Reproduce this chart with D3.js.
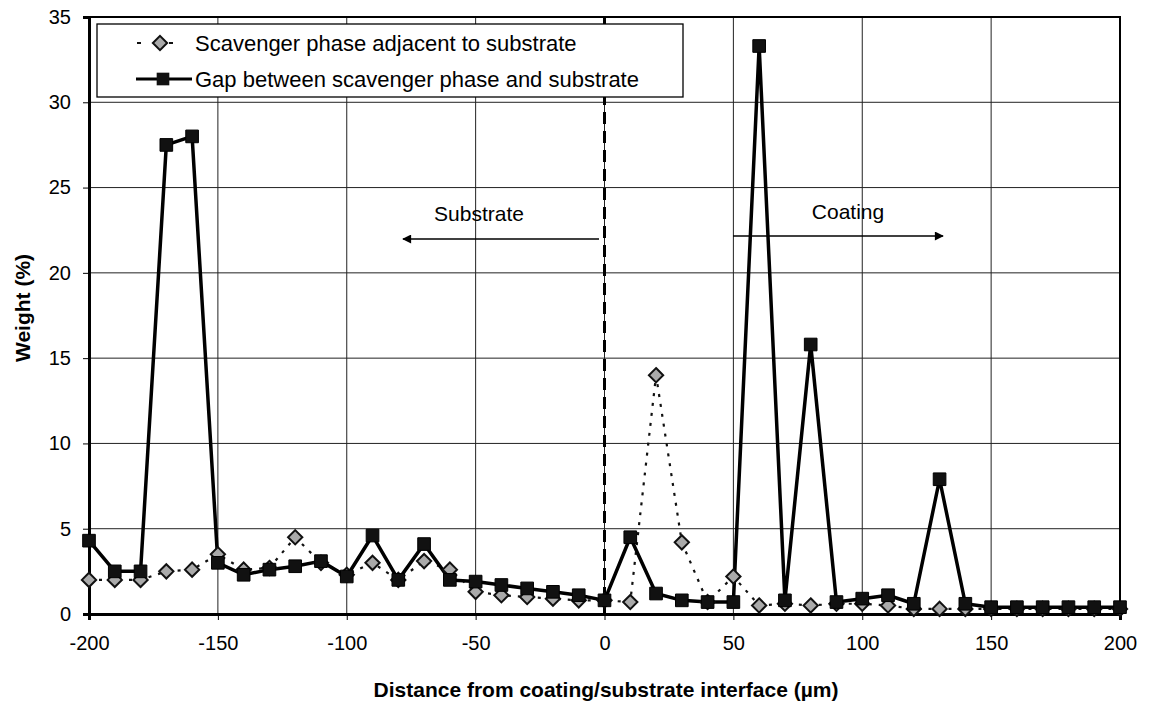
<!DOCTYPE html>
<html>
<head>
<meta charset="utf-8">
<script src="https://cdn.jsdelivr.net/npm/d3@7"></script>
<style>
  body { margin: 0; background: #fff; }
  svg { font-family: "Liberation Sans", Arial, sans-serif; }
</style>
</head>
<body>
<svg id="chart" width="1150" height="702"></svg>
<script>
var distances = [-200,-190,-180,-170,-160,-150,-140,-130,-120,-110,-100,-90,-80,-70,-60,-50,-40,-30,-20,-10,
                 0,10,20,30,40,50,60,70,80,90,100,110,120,130,140,150,160,170,180,190,200];

var scavenger = [2.0,2.0,2.0,2.5,2.6,3.5,2.6,2.7,4.5,3.0,2.3,3.0,2.0,3.1,2.6,1.3,1.1,1.0,0.9,0.8,
                 0.8,0.7,14.0,4.2,0.7,2.2,0.5,0.6,0.5,0.6,0.6,0.5,0.3,0.3,0.3,0.3,0.3,0.3,0.3,0.3,0.3];

var gap = [4.3,2.5,2.5,27.5,28.0,3.0,2.3,2.6,2.8,3.1,2.2,4.6,2.0,4.1,2.0,1.9,1.7,1.5,1.3,1.1,
           0.8,4.5,1.2,0.8,0.7,0.7,33.3,0.8,15.8,0.7,0.9,1.1,0.6,7.9,0.6,0.4,0.4,0.4,0.4,0.4,0.4];

var xTicks = [-200,-150,-100,-50,0,50,100,150,200];
var yTicks = [0,5,10,15,20,25,30,35];
var seriesNames = ['Scavenger phase adjacent to substrate', 'Gap between scavenger phase and substrate'];

var svg = d3.select('#chart');

var x = d3.scaleLinear().domain([-200, 200]).range([89, 1120]);
var y = d3.scaleLinear().domain([0, 35]).range([614, 17]);

// grid
svg.append('g').selectAll('line.h')
  .data(yTicks).enter().append('line')
    .attr('x1', x(-200)).attr('x2', x(200))
    .attr('y1', function(d) { return y(d) }).attr('y2', function(d) { return y(d) })
    .attr('stroke', '#222').attr('stroke-width', 1);

svg.append('g').selectAll('line.v')
  .data(xTicks).enter().append('line')
    .attr('y1', y(0)).attr('y2', y(35))
    .attr('x1', function(d) { return x(d) }).attr('x2', function(d) { return x(d) })
    .attr('stroke', '#222').attr('stroke-width', 1);

// frame
svg.append('rect')
  .attr('x', x(-200)).attr('y', y(35))
  .attr('width', x(200) - x(-200)).attr('height', y(0) - y(35))
  .attr('fill', 'none').attr('stroke', '#000').attr('stroke-width', 2);

// axes (plain hyphen for negatives, like the original)
var fmt = function(d) { return String(d) };
var xAxis = svg.append('g')
  .attr('transform', 'translate(0,' + y(0) + ')')
  .call(d3.axisBottom(x).tickValues(xTicks).tickFormat(fmt).tickSize(6).tickPadding(14));
var yAxis = svg.append('g')
  .attr('transform', 'translate(' + x(-200) + ',0)')
  .call(d3.axisLeft(y).tickValues(yTicks).tickFormat(fmt).tickSize(6).tickPadding(12));

[xAxis, yAxis].forEach(function(a) {
  a.select('.domain').attr('stroke', '#000').attr('stroke-width', 3);
  a.selectAll('line').attr('stroke', '#000');
  a.selectAll('text').attr('font-size', 20).attr('fill', '#000')
    .attr('font-family', '"Liberation Sans", Arial, sans-serif');
});
xAxis.selectAll('text').attr('dy', '0.8em');

// interface line
svg.append('line')
  .attr('x1', x(0)).attr('x2', x(0))
  .attr('y1', y(35)).attr('y2', y(0))
  .attr('stroke', '#000').attr('stroke-width', 3)
  .attr('stroke-dasharray', '12,7');

// series lines
var line = function(vals) {
  return d3.line()
    .x(function(d, i) { return x(distances[i]) })
    .y(function(d) { return y(d) })(vals);
};

svg.append('path')
  .attr('d', line(scavenger))
  .attr('fill', 'none').attr('stroke', '#111').attr('stroke-width', 2.2)
  .attr('stroke-dasharray', '3,7');

svg.append('path')
  .attr('d', line(gap))
  .attr('fill', 'none').attr('stroke', '#000').attr('stroke-width', 3.5)
  .attr('stroke-linejoin', 'round');

var diamond = d3.symbol().type(d3.symbolDiamond2).size(130);
var square = d3.symbol().type(d3.symbolSquare).size(160);

svg.append('g').selectAll('path')
  .data(scavenger).enter().append('path')
    .attr('d', diamond)
    .attr('transform', function(d, i) { return 'translate(' + x(distances[i]) + ',' + y(d) + ')' })
    .attr('fill', '#aaa').attr('stroke', '#111').attr('stroke-width', 2);

svg.append('g').selectAll('path')
  .data(gap).enter().append('path')
    .attr('d', square)
    .attr('transform', function(d, i) { return 'translate(' + x(distances[i]) + ',' + y(d) + ')' })
    .attr('fill', '#111').attr('stroke', '#000').attr('stroke-width', 1);

// annotations
svg.append('text').attr('x', 479).attr('y', 221).attr('text-anchor', 'middle')
  .attr('font-size', 21).text('Substrate');
svg.append('text').attr('x', 848).attr('y', 219).attr('text-anchor', 'middle')
  .attr('font-size', 21).text('Coating');

svg.append('defs').append('marker')
  .attr('id', 'arr').attr('viewBox', '0 0 10 10').attr('refX', 9).attr('refY', 5)
  .attr('markerWidth', 12).attr('markerHeight', 9).attr('markerUnits', 'userSpaceOnUse')
  .attr('orient', 'auto')
  .append('path').attr('d', 'M0,0L10,5L0,10z').attr('fill', '#000');

svg.append('line').attr('x1', 599).attr('x2', 403).attr('y1', 239).attr('y2', 239)
  .attr('stroke', '#000').attr('stroke-width', 1.3).attr('marker-end', 'url(#arr)');
svg.append('line').attr('x1', 733).attr('x2', 943).attr('y1', 236).attr('y2', 236)
  .attr('stroke', '#000').attr('stroke-width', 1.3).attr('marker-end', 'url(#arr)');

// legend
var lg = svg.append('g');
lg.append('rect').attr('x', 97).attr('y', 24).attr('width', 586).attr('height', 73)
  .attr('fill', '#fff').attr('stroke', '#000').attr('stroke-width', 1.3);

lg.append('line').attr('x1', 136).attr('x2', 180).attr('y1', 43).attr('y2', 43)
  .attr('stroke', '#111').attr('stroke-width', 2.2).attr('stroke-dasharray', '4,12').attr('stroke-dashoffset', -1);
lg.append('path').attr('d', diamond).attr('transform', 'translate(160,43)')
  .attr('fill', '#aaa').attr('stroke', '#111').attr('stroke-width', 2);
lg.append('line').attr('x1', 136).attr('x2', 192).attr('y1', 79).attr('y2', 79)
  .attr('stroke', '#000').attr('stroke-width', 3);
lg.append('path').attr('d', square).attr('transform', 'translate(163,79)')
  .attr('fill', '#111');

lg.selectAll('text.lab').data(seriesNames).enter().append('text')
  .attr('x', 195).attr('y', function(d, i) { return 51 + i * 36 })
  .attr('font-size', 22).text(function(d) { return d });

// axis titles
svg.append('text').attr('x', 606).attr('y', 697).attr('text-anchor', 'middle')
  .attr('font-size', 21).attr('font-weight', 'bold')
  .text('Distance from coating/substrate interface (\u00b5m)');
svg.append('text').attr('transform', 'translate(30,308) rotate(-90)')
  .attr('text-anchor', 'middle').attr('font-size', 21).attr('font-weight', 'bold')
  .text('Weight (%)');
</script>
</body>
</html>
